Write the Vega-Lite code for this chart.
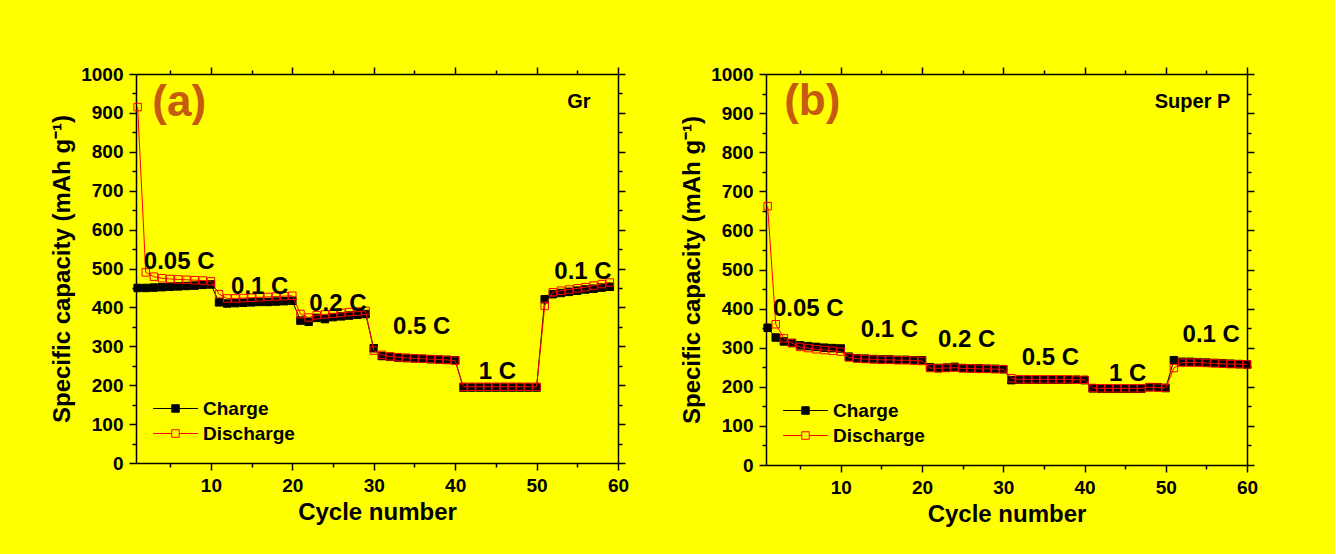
{
  "$schema": "https://vega.github.io/schema/vega-lite/v6.json",
  "background": "#FFFF00",
  "padding": {"left": 50, "top": 65, "right": 77, "bottom": 30},
  "spacing": 51,
  "config": {
    "font": "Liberation Sans",
    "view": {"stroke": null},
    "axis": {
      "grid": false,
      "domainColor": "black",
      "domainWidth": 1.5,
      "tickColor": "black",
      "tickWidth": 1.5,
      "labelFont": "Liberation Sans",
      "labelFontWeight": "bold",
      "labelFontSize": 19,
      "labelColor": "black",
      "titleFont": "Liberation Sans",
      "titleFontWeight": "bold",
      "titleFontSize": 24,
      "titleColor": "black"
    },
    "legend": {
      "labelFont": "Liberation Sans",
      "labelFontWeight": "bold",
      "labelFontSize": 19,
      "labelColor": "black"
    },
    "text": {"font": "Liberation Sans", "fontWeight": "bold"}
  },
  "datasets": {
    "a": [
      {"cycle": 1, "Charge": 450, "Discharge": 915},
      {"cycle": 2, "Charge": 450, "Discharge": 490},
      {"cycle": 3, "Charge": 451, "Discharge": 479},
      {"cycle": 4, "Charge": 452, "Discharge": 475},
      {"cycle": 5, "Charge": 453, "Discharge": 473},
      {"cycle": 6, "Charge": 454, "Discharge": 472},
      {"cycle": 7, "Charge": 455, "Discharge": 471},
      {"cycle": 8, "Charge": 456, "Discharge": 470},
      {"cycle": 9, "Charge": 458, "Discharge": 469},
      {"cycle": 10, "Charge": 459, "Discharge": 467},
      {"cycle": 11, "Charge": 413, "Discharge": 434},
      {"cycle": 12, "Charge": 410, "Discharge": 423},
      {"cycle": 13, "Charge": 411, "Discharge": 423},
      {"cycle": 14, "Charge": 412, "Discharge": 424},
      {"cycle": 15, "Charge": 413, "Discharge": 425},
      {"cycle": 16, "Charge": 414, "Discharge": 426},
      {"cycle": 17, "Charge": 414, "Discharge": 427},
      {"cycle": 18, "Charge": 415, "Discharge": 428},
      {"cycle": 19, "Charge": 416, "Discharge": 429},
      {"cycle": 20, "Charge": 417, "Discharge": 430},
      {"cycle": 21, "Charge": 366, "Discharge": 383},
      {"cycle": 22, "Charge": 363, "Discharge": 374},
      {"cycle": 23, "Charge": 373, "Discharge": 380},
      {"cycle": 24, "Charge": 370, "Discharge": 382},
      {"cycle": 25, "Charge": 375, "Discharge": 384},
      {"cycle": 26, "Charge": 377, "Discharge": 386},
      {"cycle": 27, "Charge": 379, "Discharge": 388},
      {"cycle": 28, "Charge": 381, "Discharge": 389},
      {"cycle": 29, "Charge": 383, "Discharge": 391},
      {"cycle": 30, "Charge": 295, "Discharge": 289},
      {"cycle": 31, "Charge": 275, "Discharge": 278},
      {"cycle": 32, "Charge": 273, "Discharge": 274},
      {"cycle": 33, "Charge": 271, "Discharge": 272},
      {"cycle": 34, "Charge": 270, "Discharge": 270},
      {"cycle": 35, "Charge": 269, "Discharge": 269},
      {"cycle": 36, "Charge": 268, "Discharge": 268},
      {"cycle": 37, "Charge": 267, "Discharge": 267},
      {"cycle": 38, "Charge": 266, "Discharge": 266},
      {"cycle": 39, "Charge": 265, "Discharge": 265},
      {"cycle": 40, "Charge": 264, "Discharge": 263},
      {"cycle": 41, "Charge": 194, "Discharge": 196},
      {"cycle": 42, "Charge": 194, "Discharge": 196},
      {"cycle": 43, "Charge": 194, "Discharge": 196},
      {"cycle": 44, "Charge": 194, "Discharge": 196},
      {"cycle": 45, "Charge": 194, "Discharge": 196},
      {"cycle": 46, "Charge": 194, "Discharge": 196},
      {"cycle": 47, "Charge": 194, "Discharge": 196},
      {"cycle": 48, "Charge": 194, "Discharge": 196},
      {"cycle": 49, "Charge": 194, "Discharge": 196},
      {"cycle": 50, "Charge": 194, "Discharge": 196},
      {"cycle": 51, "Charge": 421, "Discharge": 404},
      {"cycle": 52, "Charge": 434, "Discharge": 439},
      {"cycle": 53, "Charge": 437, "Discharge": 443},
      {"cycle": 54, "Charge": 440, "Discharge": 446},
      {"cycle": 55, "Charge": 443, "Discharge": 449},
      {"cycle": 56, "Charge": 446, "Discharge": 452},
      {"cycle": 57, "Charge": 448, "Discharge": 456},
      {"cycle": 58, "Charge": 451, "Discharge": 460},
      {"cycle": 59, "Charge": 453, "Discharge": 464}
    ],
    "b": [
      {"cycle": 1, "Charge": 351, "Discharge": 662},
      {"cycle": 2, "Charge": 326, "Discharge": 360},
      {"cycle": 3, "Charge": 316, "Discharge": 324},
      {"cycle": 4, "Charge": 312, "Discharge": 312},
      {"cycle": 5, "Charge": 306, "Discharge": 302},
      {"cycle": 6, "Charge": 304, "Discharge": 299},
      {"cycle": 7, "Charge": 302, "Discharge": 296},
      {"cycle": 8, "Charge": 300, "Discharge": 294},
      {"cycle": 9, "Charge": 299, "Discharge": 292},
      {"cycle": 10, "Charge": 298, "Discharge": 290},
      {"cycle": 11, "Charge": 277, "Discharge": 275},
      {"cycle": 12, "Charge": 273, "Discharge": 272},
      {"cycle": 13, "Charge": 272, "Discharge": 271},
      {"cycle": 14, "Charge": 271, "Discharge": 270},
      {"cycle": 15, "Charge": 270, "Discharge": 269},
      {"cycle": 16, "Charge": 270, "Discharge": 269},
      {"cycle": 17, "Charge": 269, "Discharge": 268},
      {"cycle": 18, "Charge": 269, "Discharge": 268},
      {"cycle": 19, "Charge": 268, "Discharge": 267},
      {"cycle": 20, "Charge": 268, "Discharge": 266},
      {"cycle": 21, "Charge": 250, "Discharge": 248},
      {"cycle": 22, "Charge": 248, "Discharge": 247},
      {"cycle": 23, "Charge": 249, "Discharge": 248},
      {"cycle": 24, "Charge": 251, "Discharge": 249},
      {"cycle": 25, "Charge": 248, "Discharge": 247},
      {"cycle": 26, "Charge": 247, "Discharge": 247},
      {"cycle": 27, "Charge": 247, "Discharge": 246},
      {"cycle": 28, "Charge": 246, "Discharge": 246},
      {"cycle": 29, "Charge": 246, "Discharge": 245},
      {"cycle": 30, "Charge": 245, "Discharge": 245},
      {"cycle": 31, "Charge": 217, "Discharge": 222},
      {"cycle": 32, "Charge": 218, "Discharge": 219},
      {"cycle": 33, "Charge": 218, "Discharge": 219},
      {"cycle": 34, "Charge": 218, "Discharge": 219},
      {"cycle": 35, "Charge": 218, "Discharge": 219},
      {"cycle": 36, "Charge": 218, "Discharge": 219},
      {"cycle": 37, "Charge": 218, "Discharge": 219},
      {"cycle": 38, "Charge": 218, "Discharge": 219},
      {"cycle": 39, "Charge": 218, "Discharge": 218},
      {"cycle": 40, "Charge": 217, "Discharge": 218},
      {"cycle": 41, "Charge": 196, "Discharge": 197},
      {"cycle": 42, "Charge": 195, "Discharge": 196},
      {"cycle": 43, "Charge": 195, "Discharge": 196},
      {"cycle": 44, "Charge": 195, "Discharge": 196},
      {"cycle": 45, "Charge": 195, "Discharge": 196},
      {"cycle": 46, "Charge": 195, "Discharge": 196},
      {"cycle": 47, "Charge": 195, "Discharge": 196},
      {"cycle": 48, "Charge": 199, "Discharge": 199},
      {"cycle": 49, "Charge": 199, "Discharge": 198},
      {"cycle": 50, "Charge": 197, "Discharge": 197},
      {"cycle": 51, "Charge": 268, "Discharge": 248},
      {"cycle": 52, "Charge": 264, "Discharge": 262},
      {"cycle": 53, "Charge": 264, "Discharge": 262},
      {"cycle": 54, "Charge": 263, "Discharge": 262},
      {"cycle": 55, "Charge": 262, "Discharge": 261},
      {"cycle": 56, "Charge": 261, "Discharge": 260},
      {"cycle": 57, "Charge": 260, "Discharge": 259},
      {"cycle": 58, "Charge": 259, "Discharge": 258},
      {"cycle": 59, "Charge": 258, "Discharge": 258},
      {"cycle": 60, "Charge": 257, "Discharge": 257}
    ],
    "la": [
      {"x": 6.1, "y": 516, "t": "0.05 C"},
      {"x": 16.0, "y": 452, "t": "0.1 C"},
      {"x": 25.6, "y": 410, "t": "0.2 C"},
      {"x": 35.9, "y": 350, "t": "0.5 C"},
      {"x": 45.2, "y": 234, "t": "1 C"},
      {"x": 55.7, "y": 491, "t": "0.1 C"}
    ],
    "lb": [
      {"x": 6.0, "y": 400, "t": "0.05 C"},
      {"x": 16.0, "y": 346, "t": "0.1 C"},
      {"x": 25.5, "y": 320, "t": "0.2 C"},
      {"x": 35.8, "y": 274, "t": "0.5 C"},
      {"x": 45.3, "y": 234, "t": "1 C"},
      {"x": 55.6, "y": 333, "t": "0.1 C"}
    ],
    "ta": [
      {"x": 6.1, "y": 925, "t": "(a)", "k": "panel"},
      {"x": 55.2, "y": 927, "t": "Gr", "k": "name"}
    ],
    "tb": [
      {"x": 6.5, "y": 928, "t": "(b)", "k": "panel"},
      {"x": 53.3, "y": 929, "t": "Super P", "k": "name"}
    ]
  },
  "resolve": {"legend": {"stroke": "independent", "fill": "independent"}},
  "hconcat": [
    {
      "width": 482,
      "height": 389,
      "resolve": {"axis": {"x": "independent", "y": "independent"}},
      "layer": [
        {
          "data": {"name": "a"},
          "mark": {"type": "line", "strokeWidth": 1},
          "encoding": {
            "x": {"field": "cycle", "type": "quantitative", "scale": {"domain": [0.8, 60], "nice": false, "zero": false},
              "axis": {"orient": "bottom", "title": "Cycle number", "values": [5,10,15,20,25,30,35,40,45,50,55,60],
                "labelExpr": "datum.value % 10 === 0 ? datum.label : ''",
                "tickSize": {"condition": {"test": "datum.value % 10 === 0", "value": 7}, "value": 4},
                "labelPadding": 6, "titlePadding": 5, "labelFlush": false}},
            "y": {"field": "Charge", "type": "quantitative", "scale": {"domain": [0, 1000], "nice": false},
              "axis": {"orient": "left", "title": "Specific capacity (mAh g⁻¹)", "format": "d", "values": [0,50,100,150,200,250,300,350,400,450,500,550,600,650,700,750,800,850,900,950,1000],
                "labelExpr": "datum.value % 100 === 0 ? datum.label : ''",
                "tickSize": {"condition": {"test": "datum.value % 100 === 0", "value": 7}, "value": 4},
                "labelPadding": 6, "titlePadding": 6, "labelFlush": false}},
            "stroke": {"datum": "Charge", "type": "nominal", "scale": {"domain": ["Charge", "Discharge"], "range": ["black", "red"]}}
          }
        },
        {
          "data": {"name": "a"},
          "mark": {"type": "point", "shape": "square", "size": 56, "strokeWidth": 1, "opacity": 1},
          "encoding": {
            "x": {"field": "cycle", "type": "quantitative", "axis": null},
            "y": {"field": "Charge", "type": "quantitative", "axis": null},
            "stroke": {"datum": "Charge", "type": "nominal", "scale": {"domain": ["Charge", "Discharge"], "range": ["black", "red"]},
              "legend": {"title": null, "orient": "none", "legendX": 30, "legendY": 325, "padding": 0, "rowPadding": 5,
                "symbolType": "M-6,0H-1M1,0H6M-1,-1H1V1H-1Z", "symbolSize": 56, "symbolStrokeWidth": 1, "labelOffset": 18}},
            "fill": {"datum": "Charge", "type": "nominal", "scale": {"domain": ["Charge", "Discharge"], "range": ["black", "transparent"]},
              "legend": {"title": null, "orient": "none", "legendX": 30, "legendY": 325, "padding": 0, "rowPadding": 5,
                "symbolType": "M-6,0H-1M1,0H6M-1,-1H1V1H-1Z", "symbolSize": 56, "symbolStrokeWidth": 1, "labelOffset": 18}}
          }
        },
        {
          "data": {"name": "a"},
          "mark": {"type": "line", "strokeWidth": 1},
          "encoding": {
            "x": {"field": "cycle", "type": "quantitative",
              "axis": {"orient": "top", "title": null, "labels": false, "values": [5,10,15,20,25,30,35,40,45,50,55,60],
                "tickSize": {"condition": {"test": "datum.value % 10 === 0", "value": 7}, "value": 4}}},
            "y": {"field": "Discharge", "type": "quantitative",
              "axis": {"orient": "right", "title": null, "labels": false, "values": [0,50,100,150,200,250,300,350,400,450,500,550,600,650,700,750,800,850,900,950,1000],
                "tickSize": {"condition": {"test": "datum.value % 100 === 0", "value": 7}, "value": 4}}},
            "stroke": {"datum": "Discharge", "type": "nominal"}
          }
        },
        {
          "data": {"name": "a"},
          "mark": {"type": "point", "shape": "square", "size": 56, "strokeWidth": 1, "opacity": 1},
          "encoding": {
            "x": {"field": "cycle", "type": "quantitative", "axis": null},
            "y": {"field": "Discharge", "type": "quantitative", "axis": null},
            "stroke": {"datum": "Discharge", "type": "nominal"},
            "fill": {"datum": "Discharge", "type": "nominal"}
          }
        },
        {
          "data": {"name": "la"},
          "mark": {"type": "text", "fontSize": 24, "align": "center", "baseline": "middle", "color": "black"},
          "encoding": {
            "x": {"field": "x", "type": "quantitative", "axis": null},
            "y": {"field": "y", "type": "quantitative", "axis": null},
            "text": {"field": "t"}
          }
        },
        {
          "data": {"name": "ta"},
          "mark": {"type": "text", "align": "center", "baseline": "middle"},
          "encoding": {
            "x": {"field": "x", "type": "quantitative", "axis": null},
            "y": {"field": "y", "type": "quantitative", "axis": null},
            "text": {"field": "t"},
            "size": {"field": "k", "type": "nominal", "scale": {"domain": ["panel", "name"], "range": [44, 20]}, "legend": null},
            "color": {"field": "k", "type": "nominal", "scale": {"domain": ["panel", "name"], "range": ["#C65A11", "black"]}, "legend": null}
          }
        }
      ]
    },
    {
      "width": 481,
      "height": 391,
      "resolve": {"axis": {"x": "independent", "y": "independent"}},
      "layer": [
        {
          "data": {"name": "b"},
          "mark": {"type": "line", "strokeWidth": 1},
          "encoding": {
            "x": {"field": "cycle", "type": "quantitative", "scale": {"domain": [0.8, 60], "nice": false, "zero": false},
              "axis": {"orient": "bottom", "title": "Cycle number", "values": [5,10,15,20,25,30,35,40,45,50,55,60],
                "labelExpr": "datum.value % 10 === 0 ? datum.label : ''",
                "tickSize": {"condition": {"test": "datum.value % 10 === 0", "value": 7}, "value": 4},
                "labelPadding": 6, "titlePadding": 5, "labelFlush": false}},
            "y": {"field": "Charge", "type": "quantitative", "scale": {"domain": [0, 1000], "nice": false},
              "axis": {"orient": "left", "title": "Specific capacity (mAh g⁻¹)", "format": "d", "values": [0,50,100,150,200,250,300,350,400,450,500,550,600,650,700,750,800,850,900,950,1000],
                "labelExpr": "datum.value % 100 === 0 ? datum.label : ''",
                "tickSize": {"condition": {"test": "datum.value % 100 === 0", "value": 7}, "value": 4},
                "labelPadding": 6, "titlePadding": 6, "labelFlush": false}},
            "stroke": {"datum": "Charge", "type": "nominal", "scale": {"domain": ["Charge", "Discharge"], "range": ["black", "red"]}}
          }
        },
        {
          "data": {"name": "b"},
          "mark": {"type": "point", "shape": "square", "size": 56, "strokeWidth": 1, "opacity": 1},
          "encoding": {
            "x": {"field": "cycle", "type": "quantitative", "axis": null},
            "y": {"field": "Charge", "type": "quantitative", "axis": null},
            "stroke": {"datum": "Charge", "type": "nominal", "scale": {"domain": ["Charge", "Discharge"], "range": ["black", "red"]},
              "legend": {"title": null, "orient": "none", "legendX": 30, "legendY": 327, "padding": 0, "rowPadding": 5,
                "symbolType": "M-6,0H-1M1,0H6M-1,-1H1V1H-1Z", "symbolSize": 56, "symbolStrokeWidth": 1, "labelOffset": 18}},
            "fill": {"datum": "Charge", "type": "nominal", "scale": {"domain": ["Charge", "Discharge"], "range": ["black", "transparent"]},
              "legend": {"title": null, "orient": "none", "legendX": 30, "legendY": 327, "padding": 0, "rowPadding": 5,
                "symbolType": "M-6,0H-1M1,0H6M-1,-1H1V1H-1Z", "symbolSize": 56, "symbolStrokeWidth": 1, "labelOffset": 18}}
          }
        },
        {
          "data": {"name": "b"},
          "mark": {"type": "line", "strokeWidth": 1},
          "encoding": {
            "x": {"field": "cycle", "type": "quantitative",
              "axis": {"orient": "top", "title": null, "labels": false, "values": [5,10,15,20,25,30,35,40,45,50,55,60],
                "tickSize": {"condition": {"test": "datum.value % 10 === 0", "value": 7}, "value": 4}}},
            "y": {"field": "Discharge", "type": "quantitative",
              "axis": {"orient": "right", "title": null, "labels": false, "values": [0,50,100,150,200,250,300,350,400,450,500,550,600,650,700,750,800,850,900,950,1000],
                "tickSize": {"condition": {"test": "datum.value % 100 === 0", "value": 7}, "value": 4}}},
            "stroke": {"datum": "Discharge", "type": "nominal"}
          }
        },
        {
          "data": {"name": "b"},
          "mark": {"type": "point", "shape": "square", "size": 56, "strokeWidth": 1, "opacity": 1},
          "encoding": {
            "x": {"field": "cycle", "type": "quantitative", "axis": null},
            "y": {"field": "Discharge", "type": "quantitative", "axis": null},
            "stroke": {"datum": "Discharge", "type": "nominal"},
            "fill": {"datum": "Discharge", "type": "nominal"}
          }
        },
        {
          "data": {"name": "lb"},
          "mark": {"type": "text", "fontSize": 24, "align": "center", "baseline": "middle", "color": "black"},
          "encoding": {
            "x": {"field": "x", "type": "quantitative", "axis": null},
            "y": {"field": "y", "type": "quantitative", "axis": null},
            "text": {"field": "t"}
          }
        },
        {
          "data": {"name": "tb"},
          "mark": {"type": "text", "align": "center", "baseline": "middle"},
          "encoding": {
            "x": {"field": "x", "type": "quantitative", "axis": null},
            "y": {"field": "y", "type": "quantitative", "axis": null},
            "text": {"field": "t"},
            "size": {"field": "k", "type": "nominal", "scale": {"domain": ["panel", "name"], "range": [44, 20]}, "legend": null},
            "color": {"field": "k", "type": "nominal", "scale": {"domain": ["panel", "name"], "range": ["#C65A11", "black"]}, "legend": null}
          }
        }
      ]
    }
  ]
}
